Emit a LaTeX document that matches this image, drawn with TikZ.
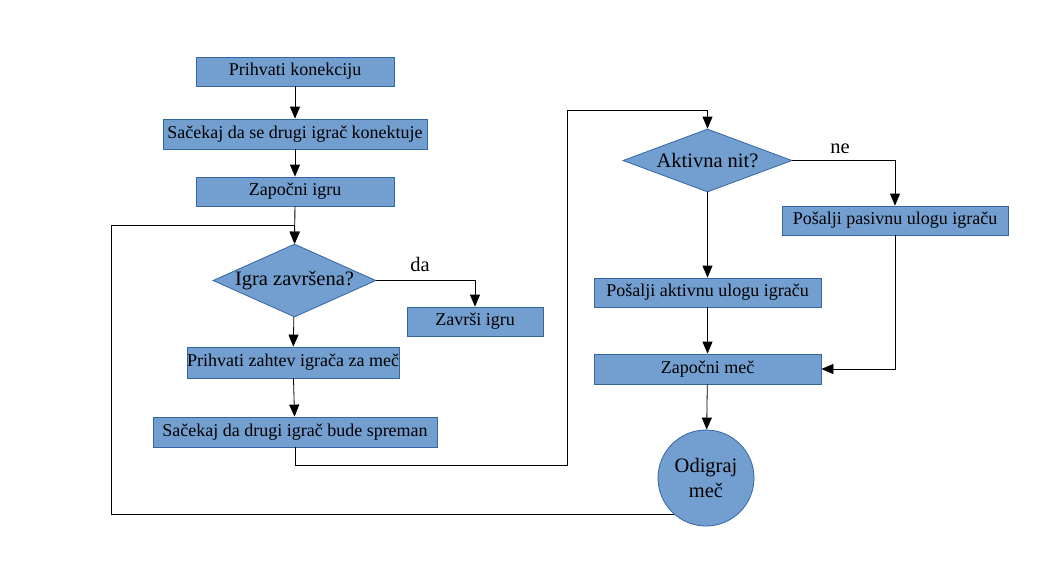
\documentclass[tikz,border=0pt]{standalone}
\usepackage{fontspec}
\setmainfont{Liberation Serif}
\usetikzlibrary{shapes,positioning,arrows.meta}
\definecolor{boxfill}{HTML}{729FCF}
\definecolor{boxline}{HTML}{3465A4}

\begin{document}
\begin{tikzpicture}[x=1pt, y=-1pt,
        box/.style={draw=boxline, fill=boxfill, line width=0.8pt,
          minimum height=29pt, inner sep=0pt, font=\fontsize{18}{21}\selectfont},
        odluka/.style={diamond, draw=boxline, fill=boxfill, line width=0.8pt,
          inner sep=0pt, font=\fontsize{20.5}{24}\selectfont},
        arr/.style={draw=black, line width=0.8pt, -{Triangle[length=12pt,width=10pt]}},
        lbl/.style={font=\fontsize{20.5}{24}\selectfont}
        ]
        \useasboundingbox (0,0) rectangle (1056,576);
        % lijevi stupac
        \node[box, minimum width=198pt] (prihvati) at (295,71.5) {Prihvati konekciju};
        \node[box, minimum width=264pt, minimum height=30pt] (sacekaj) at (295,134) {Sačekaj da se drugi igrač konektuje};
        \node[box, minimum width=198pt] (zapocni) at (295,191.5) {Započni igru};
        \node[odluka, aspect=2.23, minimum width=163pt, minimum height=73pt] (kraj) at (294.5,280.5) {Igra završena?};
        \node[box, minimum width=136pt] (zavrsi) at (475,321.5) {Završi igru};
        \node[box, minimum width=212pt, minimum height=31pt] (zahtev) at (293,362.5) {Prihvati zahtev igrača za meč};
        \node[box, minimum width=284pt, minimum height=30pt] (spreman) at (295,432) {Sačekaj da drugi igrač bude spreman};
        % desni stupac
        \node[odluka, aspect=2.68, minimum width=169pt, minimum height=63pt] (aktivna) at (707.5,160.5) {Aktivna nit?};
        \node[box, minimum width=226pt] (pasivnu) at (895,220.5) {Pošalji pasivnu ulogu igraču};
        \node[box, minimum width=227pt] (aktivnu) at (707.5,292.5) {Pošalji aktivnu ulogu igraču};
        \node[box, minimum width=227pt, minimum height=30pt] (mec) at (707.5,369) {Započni meč};
        \node[circle, draw=boxline, fill=boxfill, line width=0.8pt, minimum size=96pt,
          inner sep=0pt, align=center, font=\fontsize{20.5}{25}\selectfont] (odigraj) at (706,478) {Odigraj\\meč};
        \node[lbl] (da) at (420,264) {da};
        \node[lbl] (ne) at (840,149) {ne};
        \coordinate (petlja) at (111,225);
        \coordinate (desnoD) at (567,465);
        \coordinate (desnoG) at (567,110);

        \draw[arr] (prihvati) -- (sacekaj);
        \draw[arr] (sacekaj) -- (zapocni);
        \draw[arr] (zapocni) -- (kraj);
        \draw[arr] (kraj.east) -| (zavrsi.north);
        \draw[arr] (kraj) -- (zahtev);
        \draw[arr] (zahtev) -- (spreman);
        \draw[arr] (spreman.south) |- (desnoD) -- (desnoG) -| (aktivna.north);
        \draw[arr] (aktivna.east) -| (pasivnu.north);
        \draw[arr] (aktivna) -- (aktivnu);
        \draw[arr] (aktivnu) -- (mec);
        \draw[arr] (pasivnu.south) |- (mec.east);
        \draw[arr] (mec) -- (odigraj);
        \draw[arr] (odigraj.229) -| (petlja) -| (kraj.north);
\end{tikzpicture}
\end{document}
